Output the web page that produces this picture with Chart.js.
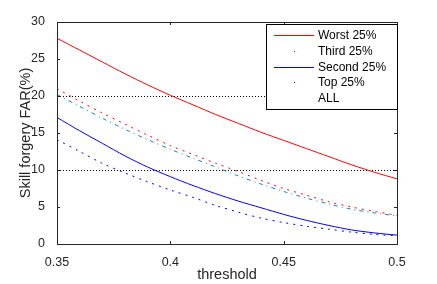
<!DOCTYPE html>
<html>
<head>
<meta charset="utf-8">
<script src="https://cdn.jsdelivr.net/npm/chart.js@4/dist/chart.umd.min.js"></script>
<style>
  html, body { margin: 0; padding: 0; background: #fff; }
  #chart { display: block; }
</style>
</head>
<body>
<canvas id="chart" width="437" height="284"></canvas>
<script>
// Data
const thresholds = [0.35, 0.36, 0.37, 0.38, 0.39, 0.40, 0.41, 0.42, 0.43, 0.44, 0.45, 0.46, 0.47, 0.48, 0.49, 0.50];
const worst25  = [27.8, 26.2, 24.6, 23.0, 21.5, 20.1, 18.8, 17.5, 16.3, 15.1, 14.0, 12.9, 11.8, 10.7, 9.7, 8.8];
const third25  = [21.0, 19.3, 17.7, 16.2, 14.7, 13.3, 12.1, 10.9, 9.8, 8.6, 7.5, 6.6, 5.7, 5.0, 4.4, 3.9];
const second25 = [17.1, 15.3, 13.6, 11.9, 10.4, 9.1, 7.9, 6.8, 5.8, 4.9, 4.0, 3.2, 2.5, 1.9, 1.5, 1.2];
const top25    = [14.1, 12.5, 10.9, 9.6, 8.4, 7.3, 6.3, 5.2, 4.3, 3.5, 2.9, 2.4, 2.0, 1.6, 1.3, 1.1];
const allUsers = [20.2, 18.6, 17.0, 15.5, 14.1, 12.8, 11.6, 10.4, 9.2, 8.1, 7.1, 6.2, 5.4, 4.7, 4.2, 3.8];
const seriesNames = ['Worst 25%', 'Third 25%', 'Second 25%', 'Top 25%', 'ALL'];
const seriesColors = ['#ff0000', '#ff0000', '#0000ff', '#0000ff', '#1a80c0'];
const xTicks = [0.35, 0.4, 0.45, 0.5];
const yTicks = [0, 5, 10, 15, 20, 25, 30];
const refLines = [10, 20];

const FONT = '"Liberation Sans", Arial, sans-serif';
const dashes = [[], [2, 5], [], [2, 5], [4, 4, 1, 4]];
const legendKinds = ['line', 'dot', 'line', 'dot', 'none'];

function toPoints(values) {
    return values.map((v, i) => ({ x: thresholds[i], y: v }));
}

const datasets = [worst25, third25, second25, top25, allUsers].map((vals, i) => ({
    label: seriesNames[i],
    data: toPoints(vals),
    borderColor: seriesColors[i],
    backgroundColor: seriesColors[i],
    borderDash: dashes[i],
    borderWidth: 1,
    pointRadius: 0,
    fill: false,
    tension: 0.3
}));

// Box, inward ticks, dotted reference lines and legend
const matlabAxes = {
    id: 'matlabAxes',
    beforeDatasetsDraw(chart) {
        const { ctx, chartArea: a, scales: { y } } = chart;
        ctx.save();
        ctx.strokeStyle = '#000';
        ctx.lineWidth = 1;
        ctx.setLineDash([1, 2]);
        refLines.forEach(v => {
            const py = Math.round(y.getPixelForValue(v)) + 0.5;
            ctx.beginPath();
            ctx.moveTo(a.left, py);
            ctx.lineTo(a.right, py);
            ctx.stroke();
        });
        ctx.restore();
    },
    afterDraw(chart) {
        const { ctx, chartArea: a, scales: { x, y } } = chart;
        ctx.save();
        ctx.strokeStyle = '#262626';
        ctx.lineWidth = 1;
        ctx.setLineDash([]);
        ctx.strokeRect(Math.round(a.left) + 0.5, Math.round(a.top) + 0.5,
            Math.round(a.right - a.left), Math.round(a.bottom - a.top));
        ctx.beginPath();
        xTicks.forEach(v => {
            const px = Math.round(x.getPixelForValue(v)) + 0.5;
            ctx.moveTo(px, a.bottom); ctx.lineTo(px, a.bottom - 3);
            ctx.moveTo(px, a.top); ctx.lineTo(px, a.top + 3);
        });
        yTicks.forEach(v => {
            const py = Math.round(y.getPixelForValue(v)) + 0.5;
            ctx.moveTo(a.left, py); ctx.lineTo(a.left + 3, py);
            ctx.moveTo(a.right, py); ctx.lineTo(a.right - 3, py);
        });
        ctx.stroke();

        // legend box
        const lx = 266, ly = 24, lw = 131, lh = 85;
        ctx.fillStyle = '#fff';
        ctx.fillRect(lx, ly, lw, lh);
        ctx.strokeStyle = '#000';
        ctx.strokeRect(lx + 0.5, ly + 0.5, lw, lh);
        ctx.font = '12px ' + FONT;
        ctx.textBaseline = 'middle';
        ctx.textAlign = 'left';
        seriesNames.forEach((name, i) => {
            const cy = Math.round(35 + i * 15.8);
            ctx.fillStyle = seriesColors[i];
            if (legendKinds[i] === 'line') {
                ctx.fillRect(274, cy, 40, 1);
            } else if (legendKinds[i] === 'dot') {
                ctx.fillRect(294, cy, 1, 1);
            }
            ctx.fillStyle = '#000';
            ctx.fillText(name, 318, cy + 0.5);
        });
        ctx.restore();
    }
};

new Chart(document.getElementById('chart'), {
    type: 'line',
    data: { datasets: datasets },
    options: {
        responsive: false,
        animation: false,
        layout: { padding: { top: 22, right: 40, left: 17, bottom: 0 } },
        plugins: {
            legend: { display: false },
            tooltip: { enabled: false }
        },
        scales: {
            x: {
                type: 'linear',
                min: 0.35,
                max: 0.5,
                grid: { display: false },
                border: { display: false },
                afterBuildTicks: scale => { scale.ticks = xTicks.map(v => ({ value: v })); },
                ticks: {
                    color: '#262626',
                    font: { family: FONT, size: 12.5 },
                    padding: 3,
                    maxRotation: 0,
                    callback: v => String(Number(v.toFixed(2)))
                },
                title: {
                    display: true,
                    text: 'threshold',
                    color: '#262626',
                    font: { family: FONT, size: 14.5 },
                    padding: { top: 4, bottom: 0 }
                },
                afterFit: scale => { scale.height = 40; }
            },
            y: {
                min: 0,
                max: 30,
                grid: { display: false },
                border: { display: false },
                afterBuildTicks: scale => { scale.ticks = yTicks.map(v => ({ value: v })); },
                ticks: {
                    color: '#262626',
                    font: { family: FONT, size: 12.5 },
                    padding: 4
                },
                title: {
                    display: true,
                    text: 'Skill forgery FAR(%)',
                    color: '#262626',
                    font: { family: FONT, size: 14.5 },
                    padding: { top: 0, bottom: 2 }
                },
                afterFit: scale => { scale.width = 40; }
            }
        }
    },
    plugins: [matlabAxes]
});
</script>
</body>
</html>
